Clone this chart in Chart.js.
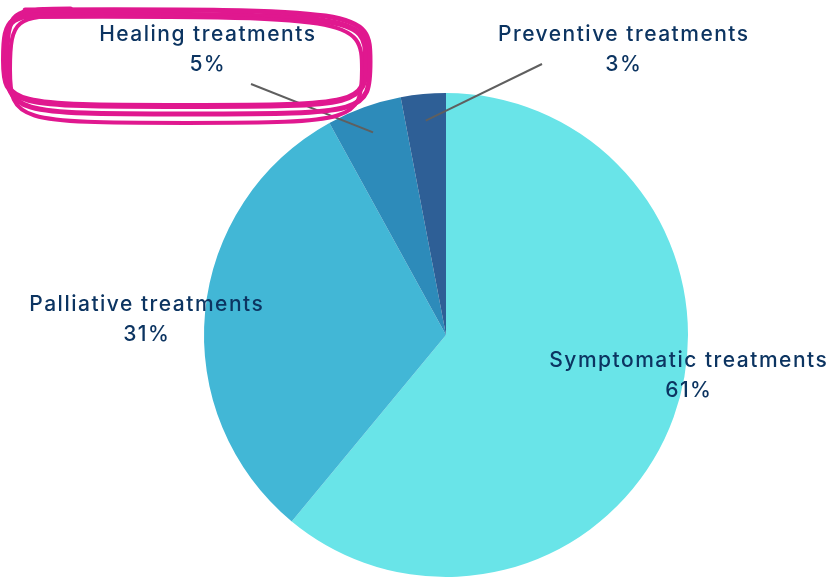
<!DOCTYPE html>
<html>
<head>
<meta charset="utf-8">
<script src="https://cdn.jsdelivr.net/npm/chart.js@4"></script>
<style>
  html, body { margin: 0; padding: 0; background: #ffffff; }
  #wrap { width: 832px; height: 578px; position: relative; }
</style>
</head>
<body>
<div id="wrap"><canvas id="c" width="832" height="578"></canvas></div>
<script>
const categories = ["Symptomatic treatments", "Palliative treatments", "Healing treatments", "Preventive treatments"];
const shares = [61, 31, 5, 3];
const sliceColors = ["#69e4e8", "#42b7d6", "#2d8bba", "#2e5f96"];

// label placement (annotation positions), index-aligned with categories
const labelPos = [
  { x: 688, y: 361, leader: null },
  { x: 146, y: 305, leader: null },
  { x: 207, y: 35, leader: { x: 251, y: 84 } },
  { x: 623, y: 35, leader: { x: 542, y: 64 } }
];
const textColor = "#0c3461";
const FONT = '500 21px "Inter", sans-serif';

const labelPlugin = {
  id: 'outLabels',
  afterDatasetsDraw(chart) {
    const ctx = chart.ctx;
    const meta = chart.getDatasetMeta(0);
    ctx.save();
    meta.data.forEach((arc, i) => {
      const p = labelPos[i];
      if (p.leader) {
        const mid = (arc.startAngle + arc.endAngle) / 2;
        const r = arc.outerRadius * 0.89;
        const ex = arc.x + Math.cos(mid) * r;
        const ey = arc.y + Math.sin(mid) * r;
        ctx.strokeStyle = "#5f5f5f";
        ctx.lineWidth = 2;
        ctx.beginPath();
        ctx.moveTo(p.leader.x, p.leader.y);
        ctx.lineTo(ex, ey);
        ctx.stroke();
      }
      ctx.fillStyle = textColor;
      ctx.font = FONT;
      ctx.letterSpacing = '1.5px';
      ctx.textAlign = 'center';
      ctx.textBaseline = 'middle';
      ctx.fillText(categories[i], p.x + 0.8, p.y);
      ctx.fillText(shares[i] + '%', p.x + 0.8, p.y + 30);
    });
    ctx.restore();
  }
};

function squircle(ctx, x0, x1, y0, y1, k) {
  const cx = (x0 + x1) / 2, cy = (y0 + y1) / 2;
  const hx = (x1 - x0) / 2, hy = (y1 - y0) / 2;
  ctx.moveTo(x0 + hx * 0.1, y0 + 1);
  ctx.bezierCurveTo(cx + hx * k, y0, x1, cy - hy * k, x1, cy);
  ctx.bezierCurveTo(x1, cy + hy * k, cx + hx * k, y1, cx, y1);
  ctx.bezierCurveTo(cx - hx * k, y1, x0, cy + hy * k, x0, cy);
  ctx.bezierCurveTo(x0, cy - hy * k, cx - hx * k, y0, x0 + hx * 0.35, y0);
}

const circlePlugin = {
  id: 'handCircle',
  afterDraw(chart) {
    const ctx = chart.ctx;
    ctx.save();
    ctx.strokeStyle = "#e0188f";
    ctx.lineCap = 'round';
    ctx.lineJoin = 'round';
    const loops = [
      { x0: 4, x1: 366, y0: 14, y1: 106, lw: 6, k: 0.97 },
      { x0: 7, x1: 370, y0: 9, y1: 114, lw: 5, k: 0.98 },
      { x0: 10, x1: 362, y0: 16, y1: 123, lw: 4, k: 0.96 }
    ];
    loops.forEach(l => {
      ctx.lineWidth = l.lw;
      ctx.beginPath();
      squircle(ctx, l.x0, l.x1, l.y0, l.y1, l.k);
      ctx.stroke();
    });
    ctx.restore();
  }
};

new Chart(document.getElementById('c'), {
  type: 'pie',
  data: {
    labels: categories,
    datasets: [{
      data: shares,
      backgroundColor: sliceColors,
      borderWidth: 0
    }]
  },
  options: {
    responsive: false,
    animation: false,
    rotation: 0,
    layout: { padding: { left: 204, right: 144, top: 93, bottom: 1 } },
    plugins: { legend: { display: false }, tooltip: { enabled: false } }
  },
  plugins: [labelPlugin, circlePlugin]
});
</script>
</body>
</html>
